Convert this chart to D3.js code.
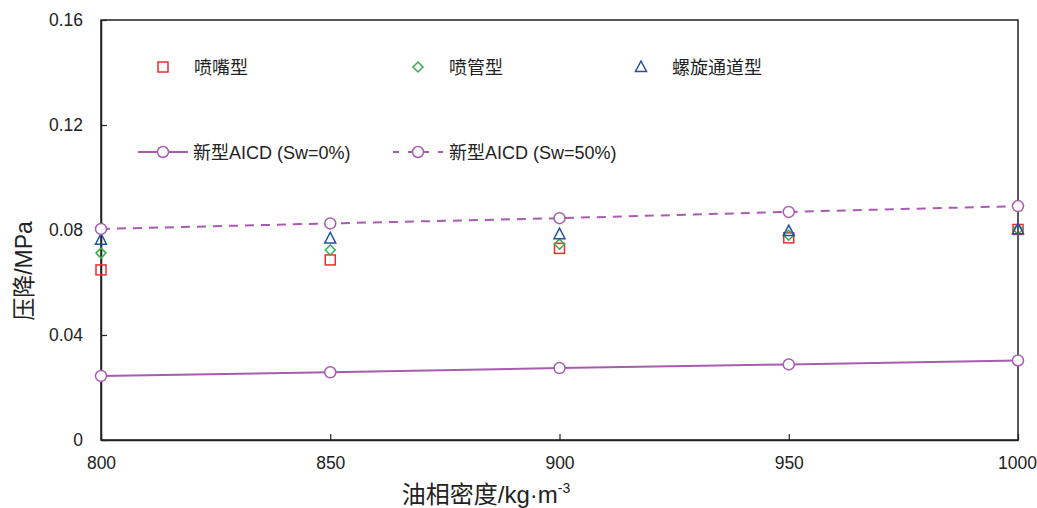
<!DOCTYPE html>
<html>
<head>
<meta charset="utf-8">
<script src="https://cdn.jsdelivr.net/npm/d3@7"></script>
<style>
  html, body { margin: 0; padding: 0; background: #fff; }
  svg { display: block; }
  text { font-family: "Liberation Sans", Arial, "Noto Sans CJK SC", sans-serif; fill: #222; }
</style>
</head>
<body>
<svg id="chart" width="1037" height="508"></svg>
<script>
// Oil density (kg/m3)
const densities = [800, 850, 900, 950, 1000];
// Pressure drop (MPa) for each device type
const nozzle = [0.0648, 0.0686, 0.0730, 0.0770, 0.0802];
const tube = [0.0712, 0.0724, 0.0746, 0.0780, 0.0803];
const spiral = [0.0763, 0.0768, 0.0784, 0.0796, 0.0803];
const aicdSw0 = [0.0244, 0.0258, 0.0274, 0.0288, 0.0303];
const aicdSw50 = [0.0804, 0.0825, 0.0845, 0.0869, 0.0891];
// Axis ticks
const xTicks = [800, 850, 900, 950, 1000];
const yTicks = [0, 0.04, 0.08, 0.12, 0.16];

const svg = d3.select("#chart");
const margin = { left: 101, right: 19, top: 20, bottom: 68 };
const W = 1037, H = 508;
const x = d3.scaleLinear().domain([800, 1000]).range([margin.left, W - margin.right]);
const y = d3.scaleLinear().domain([0, 0.16]).range([H - margin.bottom, margin.top]);

const PURPLE = "#a65dae", RED = "#ea2e2e", GREEN = "#36ad4a", BLUE = "#2153a3";
const TICK_FONT = 17.5, LEGEND_FONT = 18;

// Frame
svg.append("rect")
  .attr("x", x(800)).attr("y", y(0.16))
  .attr("width", x(1000) - x(800)).attr("height", y(0) - y(0.16))
  .attr("fill", "none").attr("stroke", "#222").attr("stroke-width", 1.5);

// Axes with inward ticks
const xAxis = svg.append("g").attr("transform", `translate(0,${y(0)})`)
  .call(d3.axisBottom(x).tickValues(xTicks).tickSizeInner(-6).tickSizeOuter(0).tickPadding(17).tickFormat(d3.format("d")));
const yAxis = svg.append("g").attr("transform", `translate(${x(800)},0)`)
  .call(d3.axisLeft(y).tickValues(yTicks).tickSizeInner(-6).tickSizeOuter(0).tickPadding(18)
    .tickFormat(d => d === 0 ? "0" : d3.format(".2f")(d)));
[xAxis, yAxis].forEach(g => {
  g.select(".domain").attr("stroke", "#222").attr("stroke-width", 1.5);
  g.selectAll(".tick line").attr("stroke", "#222").attr("stroke-width", 1.2);
  g.selectAll(".tick text").attr("font-size", TICK_FONT).attr("fill", "#222")
    .attr("font-family", "'Liberation Sans', Arial, sans-serif");
});
xAxis.selectAll(".tick text").attr("dy", "0.71em");
// keep the last x label inside the page edge
xAxis.selectAll(".tick text").filter(d => d === 1000).attr("text-anchor", "end").attr("dx", 18.5);

// Axis titles
const xt = svg.append("text").attr("x", 486).attr("y", 503).attr("text-anchor", "middle")
  .attr("font-size", 24);
xt.append("tspan").text("油相密度/kg·m");
xt.append("tspan").attr("font-size", 14).attr("dy", -10).text("-3");
svg.append("text").attr("transform", `translate(32,271) rotate(-90)`)
  .attr("text-anchor", "middle").attr("font-size", 23).text("压降/MPa");

// Lines
const line = d3.line().x((d, i) => x(densities[i])).y(d => y(d));
svg.append("path").datum(aicdSw0).attr("d", line)
  .attr("fill", "none").attr("stroke", PURPLE).attr("stroke-width", 2);
svg.append("path").datum(aicdSw50).attr("d", line)
  .attr("fill", "none").attr("stroke", PURPLE).attr("stroke-width", 2).attr("stroke-dasharray", "9,7");

// Marker helpers
function square(g, cx, cy, col) {
  g.append("rect").attr("x", cx - 5).attr("y", cy - 5).attr("width", 10).attr("height", 10)
    .attr("fill", "none").attr("stroke", col).attr("stroke-width", 1.5);
}
function diamond(g, cx, cy, col) {
  g.append("path").attr("d", `M${cx},${cy - 5}L${cx + 5},${cy}L${cx},${cy + 5}L${cx - 5},${cy}Z`)
    .attr("fill", "none").attr("stroke", col).attr("stroke-width", 1.5);
}
function triangle(g, cx, cy, col) {
  g.append("path").attr("d", `M${cx},${cy - 6}L${cx + 5.5},${cy + 4.5}L${cx - 5.5},${cy + 4.5}Z`)
    .attr("fill", "none").attr("stroke", col).attr("stroke-width", 1.5);
}
function circle(g, cx, cy, col) {
  g.append("circle").attr("cx", cx).attr("cy", cy).attr("r", 5.5)
    .attr("fill", "#fff").attr("stroke", col).attr("stroke-width", 1.5);
}

const marks = svg.append("g");
nozzle.forEach((v, i) => square(marks, x(densities[i]), y(v), RED));
tube.forEach((v, i) => diamond(marks, x(densities[i]), y(v), GREEN));
spiral.forEach((v, i) => triangle(marks, x(densities[i]), y(v), BLUE));
aicdSw0.forEach((v, i) => circle(marks, x(densities[i]), y(v), PURPLE));
aicdSw50.forEach((v, i) => circle(marks, x(densities[i]), y(v), PURPLE));

// Legend
const lg = svg.append("g");
const row1 = 67, row2 = 152;
square(lg, 163, row1, RED);
lg.append("text").attr("x", 194).attr("y", row1 + 7).attr("font-size", LEGEND_FONT).text("喷嘴型");
diamond(lg, 418, row1, GREEN);
lg.append("text").attr("x", 449).attr("y", row1 + 7).attr("font-size", LEGEND_FONT).text("喷管型");
triangle(lg, 641, row1, BLUE);
lg.append("text").attr("x", 672).attr("y", row1 + 7).attr("font-size", LEGEND_FONT).text("螺旋通道型");

lg.append("line").attr("x1", 138).attr("x2", 188).attr("y1", row2).attr("y2", row2)
  .attr("stroke", PURPLE).attr("stroke-width", 2);
circle(lg, 163, row2, PURPLE);
lg.append("text").attr("x", 193).attr("y", row2 + 7).attr("font-size", LEGEND_FONT).text("新型AICD (Sw=0%)");
lg.append("line").attr("x1", 393).attr("x2", 443).attr("y1", row2).attr("y2", row2)
  .attr("stroke", PURPLE).attr("stroke-width", 2).attr("stroke-dasharray", "6,9");
circle(lg, 418, row2, PURPLE);
lg.append("text").attr("x", 449).attr("y", row2 + 7).attr("font-size", LEGEND_FONT).text("新型AICD (Sw=50%)");
</script>
</body>
</html>
